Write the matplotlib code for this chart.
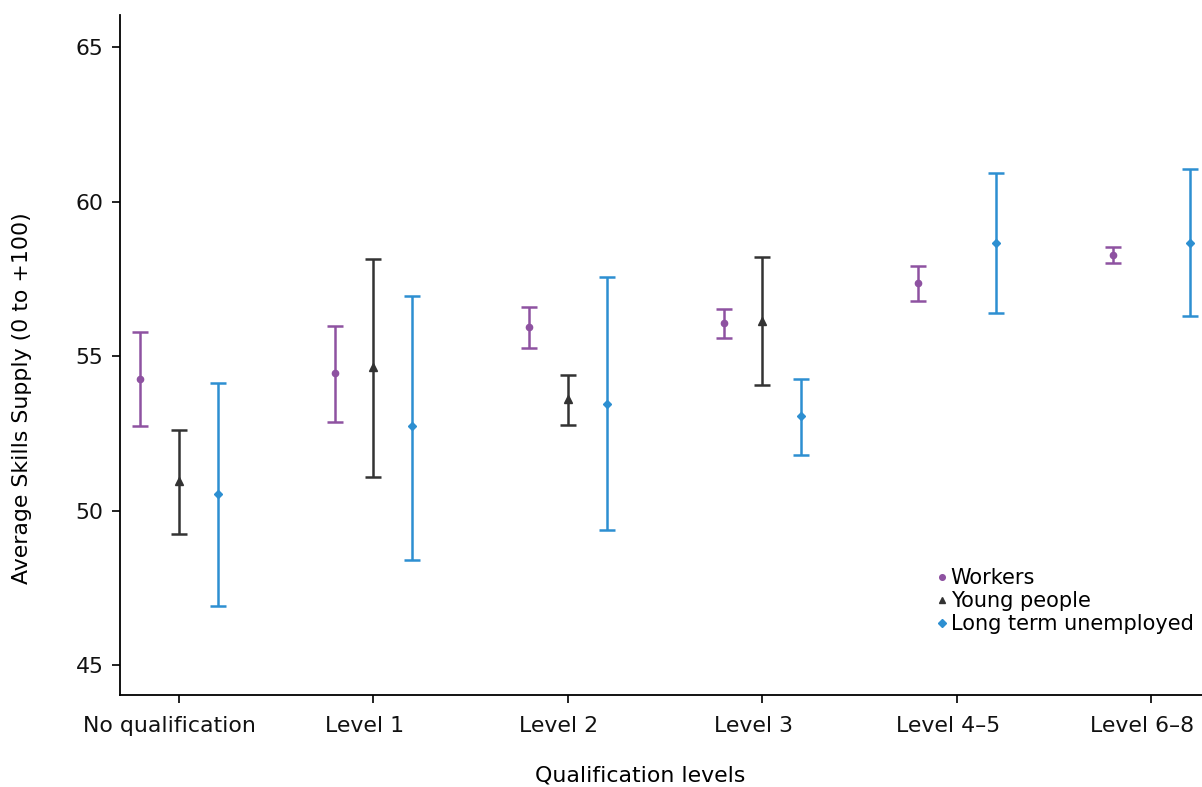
import matplotlib
matplotlib.use("Agg")
import matplotlib.pyplot as plt
import matplotlib.transforms as mtransforms
import numpy as np

plt.rcParams['font.family'] = ['DejaVu Sans']

categories = ["No qualification", "Level 1", "Level 2", "Level 3", "Level 4\u20135", "Level 6\u20138"]

workers_mean = [54.26, 54.45, 55.94, 56.07, 57.36, 58.27]
workers_lo = [52.73, 52.86, 55.26, 55.58, 56.78, 58.01]
workers_hi = [55.78, 55.97, 56.59, 56.52, 57.91, 58.53]

young_mean = [50.95, 54.64, 53.61, 56.13, np.nan, np.nan]
young_lo = [49.24, 51.08, 52.77, 54.06, np.nan, np.nan]
young_hi = [52.60, 58.14, 54.39, 58.20, np.nan, np.nan]

ltu_mean = [50.53, 52.73, 53.45, 53.06, 58.66, 58.66]
ltu_lo = [46.91, 48.40, 49.37, 51.80, 56.39, 56.29]
ltu_hi = [54.13, 56.96, 57.56, 54.26, 60.92, 61.05]

series = [
    ("Workers", workers_mean, workers_lo, workers_hi, "#8e52a1", "o", -0.2, 4.5),
    ("Young people", young_mean, young_lo, young_hi, "#333333", "^", 0.0, 5.5),
    ("Long term unemployed", ltu_mean, ltu_lo, ltu_hi, "#2d8fd1", "D", 0.2, 4.5),
]

FS = 15.8

fig = plt.figure(figsize=(12.02, 7.87), dpi=100)
ax = fig.add_axes([120/1202, 1-695/787, 1-120/1202, (695-15)/787])

x = np.arange(len(categories))
for name, m, lo, hi, col, mk, off, ms in series:
    m = np.array(m); lo = np.array(lo); hi = np.array(hi)
    ok = ~np.isnan(m)
    ax.errorbar(x[ok] + off, m[ok], yerr=[m[ok] - lo[ok], hi[ok] - m[ok]],
                fmt=mk, color=col, ecolor=col, elinewidth=1.8, capsize=5.5,
                capthick=1.8, markersize=ms, label=name)

ax.set_xlim(-0.303, 5.26)
ax.set_ylim(44.03, 66.04)
ax.set_yticks([45, 50, 55, 60, 65])
ax.set_xticks(x)
ax.set_xticklabels(categories)
ax.spines['top'].set_visible(False)
ax.spines['right'].set_visible(False)
for s in ['left', 'bottom']:
    ax.spines[s].set_linewidth(1.3)
ax.tick_params(axis='both', direction='out', length=6, width=1.3, labelsize=FS, colors='#111111', pad=6)
ax.tick_params(axis='x', pad=9)
shift = mtransforms.ScaledTranslation(-9/100, 0, fig.dpi_scale_trans)
for lab in ax.get_xticklabels():
    lab.set_transform(lab.get_transform() + shift)

ax.set_ylabel("Average Skills Supply (0 to +100)", fontsize=FS)
ax.yaxis.set_label_coords(-(120-22)/1082, (695-398)/680)
ax.set_xlabel("Qualification levels", fontsize=FS)
ax.xaxis.set_label_coords((640-120)/1082, -(776-695)/680)
ax.xaxis.label.set_va('center')
ax.yaxis.label.set_va('center')

handles, labels = ax.get_legend_handles_labels()
handles = [h[0] for h in handles]
leg = ax.legend(handles, labels, loc='upper left', bbox_to_anchor=((937-120)/1082, (695-568)/680),
                frameon=False, fontsize=15, handlelength=0.5, handletextpad=0.15,
                labelspacing=0.15, borderaxespad=0, borderpad=0, markerscale=0.9)

fig.savefig("out.png", dpi=100)
